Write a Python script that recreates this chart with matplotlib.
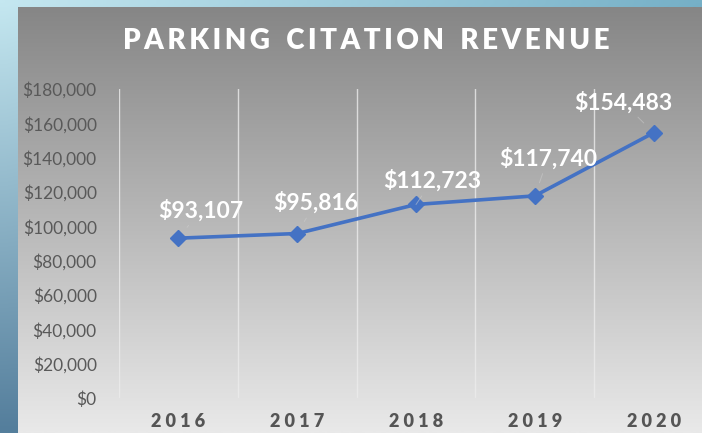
import numpy as np
import matplotlib.pyplot as plt
from matplotlib.ticker import FuncFormatter

years = ["2016", "2017", "2018", "2019", "2020"]
revenue = [93107, 95816, 112723, 117740, 154483]
y_ticks = [0, 20000, 40000, 60000, 80000, 100000, 120000, 140000, 160000, 180000]
title = "PARKING CITATION REVENUE"

W, H = 702, 433
fig = plt.figure(figsize=(W / 100, H / 100), dpi=100)

# blue frame behind everything
bg = fig.add_axes([0, 0, 1, 1])
bg.axis("off")
tl = np.array([196, 231, 240]) / 255
tr = np.array([118, 176, 199]) / 255
bl = np.array([84, 126, 156]) / 255
br = np.array([84, 126, 156]) / 255
u = np.linspace(0, 1, 64)[None, :, None]
v = np.linspace(0, 1, 64)[:, None, None]
grad = (1 - v) * ((1 - u) * tl + u * tr) + v * ((1 - u) * bl + u * br)
bg.imshow(grad, aspect="auto", extent=[0, 1, 0, 1], interpolation="bilinear")
bg.set_xlim(0, 1)
bg.set_ylim(0, 1)

# gray panel
px0, py0 = 18, 7
panel = fig.add_axes([px0 / W, 0, 1 - px0 / W, (H - py0) / H])
panel.axis("off")
g = np.linspace(134, 233, 128) / 255
panel.imshow(np.repeat(g[:, None, None], 3, axis=2), aspect="auto",
             extent=[0, 1, 0, 1], interpolation="bilinear")
panel.set_xlim(0, 1)
panel.set_ylim(0, 1)

# plot area (runs past the right edge, as in the reference)
left, right, top, bottom = 119, 713, 89, 398
ax = fig.add_axes([left / W, (H - bottom) / H, (right - left) / W, (bottom - top) / H])
ax.patch.set_alpha(0)
for s in ax.spines.values():
    s.set_visible(False)

x = np.arange(len(years))
ax.plot(x, revenue, color="#4472C4", lw=2.6, marker="D", ms=8, zorder=3)
ax.set_xlim(-0.5, len(years) - 0.5)
ax.set_ylim(0, 180000)

ax.set_xticks(x)
ax.set_xticklabels([" ".join(y) for y in years], family=["Lato", "DejaVu Sans"],
                   fontweight="heavy", fontsize=13, color="#555555")
ax.set_xticks(np.arange(-0.5, len(years), 1), minor=True)
ax.grid(which="minor", axis="x", color="#ececec", lw=1, alpha=0.8)
ax.axhline(0, color="#e0e0e0", lw=0.8, alpha=0.6)

ax.set_yticks(y_ticks)
ax.yaxis.set_major_formatter(FuncFormatter(lambda val, p: "${:,.0f}".format(val)))
for lab in ax.get_yticklabels():
    lab.set_family(["Lato", "DejaVu Sans"])
    lab.set_fontsize(12.5)
    lab.set_color("#595959")
ax.tick_params(axis="y", length=0, pad=16)
ax.tick_params(axis="x", which="both", length=0, pad=11)

# data labels with small leader lines
offsets = [(16, 20), (13, 22), (11.5, 17), (9.5, 27), (-22, 22)]
for xi, yi, (dx, dy) in zip(x, revenue, offsets):
    ax.annotate("${:,}".format(yi), (xi, yi), xytext=(dx, dy), textcoords="offset points",
                ha="center", va="center", color="white", fontsize=16.5, fontweight="bold",
                family=["Lato", "DejaVu Sans"],
                arrowprops=dict(arrowstyle="-", color="#cfcfcf", lw=0.7, alpha=0.5,
                                shrinkA=1, shrinkB=10))

spaced = "\u2009  ".join("\u2009".join(w) for w in title.split())
fig.text(366 / W, 1 - 41 / H, spaced, ha="center", va="center",
         color="white", fontsize=20, fontweight="heavy", family=["Lato", "DejaVu Sans"])

fig.savefig("out.png", dpi=100)
